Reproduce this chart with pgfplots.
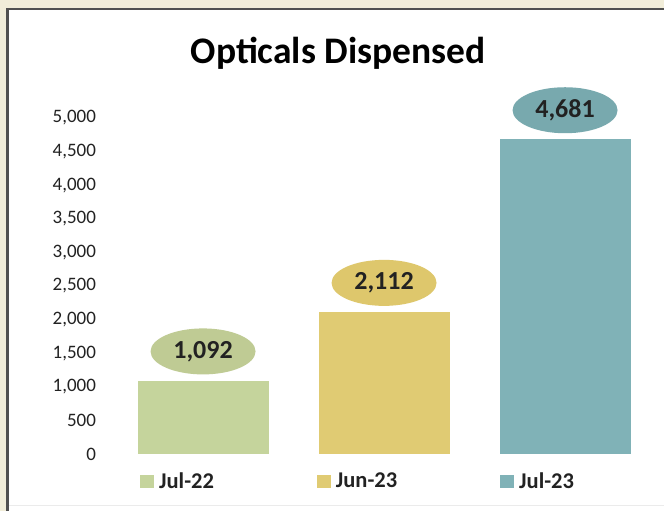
\documentclass[border=0pt]{standalone}
\usepackage{pgfplots}
\pgfplotsset{compat=1.18}
\usepackage{fontspec}
\setmainfont{Carlito}
\usetikzlibrary{shapes.geometric}

\definecolor{bgbeige}{HTML}{F1EDD9}
\definecolor{framegray}{HTML}{505050}
\definecolor{txt}{HTML}{222222}
\definecolor{cgreen}{HTML}{C5D49C}
\definecolor{cgreenE}{HTML}{BFCB94}
\definecolor{cyellow}{HTML}{E0CB73}
\definecolor{cyellowE}{HTML}{DEC76C}
\definecolor{cteal}{HTML}{80B2B7}
\definecolor{ctealE}{HTML}{78A9AE}

\begin{document}
\begin{tikzpicture}
  % page background and chart frame
  \fill[bgbeige] (0pt,0pt) rectangle (664pt,511pt);
  \fill[white] (6pt,0pt) rectangle (664pt,502pt);
  \draw[line width=2.5pt, framegray] (7.25pt,0pt) -- (7.25pt,501.75pt) -- (664pt,501.75pt);
  \draw[black!8] (9pt,6pt) -- (664pt,6pt);

  \begin{axis}[
    at={(103.5pt,57pt)}, anchor=south west,
    scale only axis,
    width=543pt, height=336pt,
    xmin=-0.55, xmax=2.45,
    ymin=0, ymax=5000,
    clip=false,
    ybar, bar width=131pt, bar shift=0pt,
    axis lines=left,
    axis line style={draw=none},
    major tick length=0pt,
    xtick=\empty,
    ytick={0,500,...,5000},
    yticklabel style={font=\fontsize{19}{21}\selectfont, text=txt, xshift=-4pt},
    /pgf/number format/.cd, 1000 sep={,}, assume math mode=true, /pgfplots/.cd,
    title={Opticals Dispensed},
    title style={at={(axis description cs:0.432,1.176)}, anchor=center,
      font=\fontsize{37.5}{40}\selectfont\bfseries, text=black},
    nodes near coords,
    every node near coord/.append style={ellipse, inner sep=0pt,
      minimum width=105pt, minimum height=46pt, anchor=south, yshift=6pt,
      font=\fontsize{26}{28}\selectfont\bfseries, text=txt},
    legend columns=3,
    legend image code/.code={\fill[#1] (0pt,-6.5pt) rectangle (14pt,6.5pt);},
    legend style={at={(0.0617,-0.081)}, anchor=west, draw=none, fill=none,
      font=\fontsize{22.5}{24}\selectfont\bfseries, text=txt,
      nodes={inner xsep=3pt, inner ysep=0pt},
      /tikz/every odd column/.append style={column sep=2pt},
      /tikz/every even column/.append style={column sep=100pt}},
  ]
    \addplot[fill=cgreen, draw=none, every node near coord/.append style={fill=cgreenE}]
      coordinates {(0,1092)};
    \addlegendentry{Jul-22}
    \addplot[fill=cyellow, draw=none, every node near coord/.append style={fill=cyellowE}]
      coordinates {(1,2112)};
    \addlegendentry{Jun-23}
    \addplot[fill=cteal, draw=none, every node near coord/.append style={fill=ctealE}]
      coordinates {(2,4681)};
    \addlegendentry{Jul-23}
  \end{axis}
  \pgfresetboundingbox
  \path (0pt,0pt) rectangle (664pt,511pt);
\end{tikzpicture}
\end{document}
